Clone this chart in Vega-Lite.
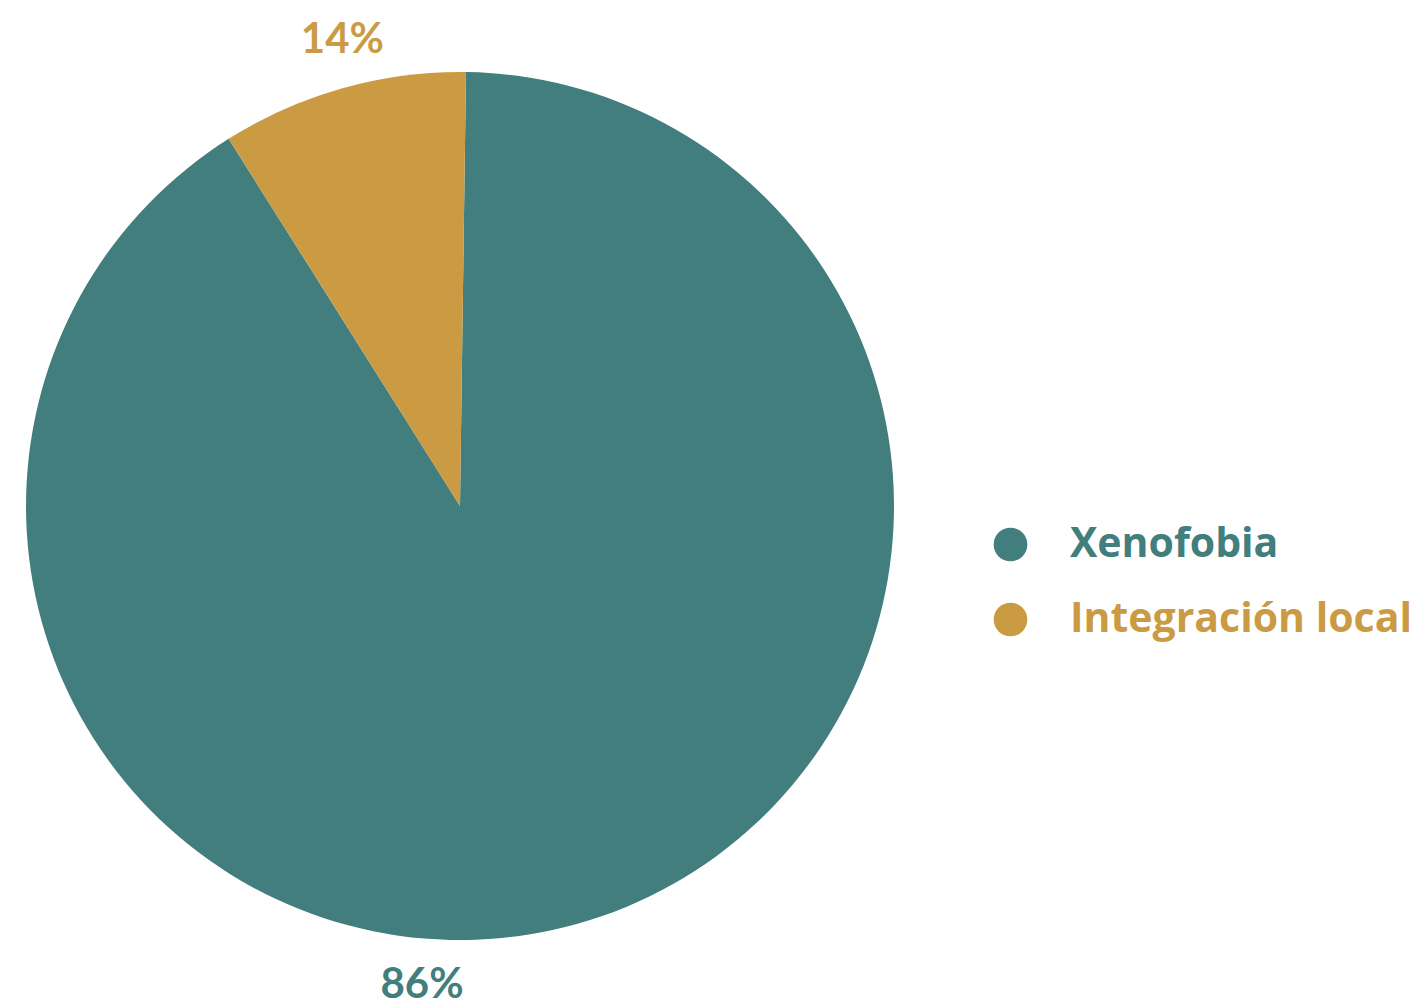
{
  "$schema": "https://vega.github.io/schema/vega-lite/v6.json",
  "width": 920,
  "height": 996,
  "autosize": {"type": "none"},
  "padding": {"left": 0, "top": 8, "right": 499, "bottom": 0},
  "background": "white",
  "config": {"view": {"stroke": null}},
  "data": {
    "values": [
      {"categoria": "Xenofobia", "valor": 90.83, "porcentaje": 86, "etiqueta": "86%"},
      {"categoria": "Integración local", "valor": 9.17, "porcentaje": 14, "etiqueta": "14%"}
    ]
  },
  "layer": [
    {
      "mark": {"type": "arc", "outerRadius": 434},
      "encoding": {
        "theta": {"field": "valor", "type": "quantitative", "stack": true, "scale": {"domain": [0, 100], "range": [0.0138, 6.297]}},
        "color": {
          "field": "categoria",
          "type": "nominal",
          "scale": {"domain": ["Xenofobia", "Integración local"], "range": ["#417E7D", "#CB9B44"]},
          "legend": {
            "orient": "none",
            "legendX": 990,
            "legendY": 516,
            "title": null,
            "symbolType": "circle",
            "symbolSize": 1134,
            "symbolStrokeWidth": 0,
            "symbolOpacity": 1,
            "labelFont": "Open Sans",
            "labelFontWeight": "bold",
            "labelFontSize": 41,
            "labelOffset": 39,
            "rowPadding": 33,
            "padding": 0,
            "labelLimit": 600,
            "encode": {"labels": {"update": {"fill": {"signal": "datum.label === 'Xenofobia' ? '#417E7D' : '#CB9B44'"}}}}
          }
        },
        "order": {"field": "categoria", "sort": "descending"}
      }
    },
    {
      "mark": {"type": "text", "radius": 481, "font": "Lato", "fontWeight": "bold", "fontSize": 42, "baseline": "middle", "align": "center"},
      "encoding": {
        "theta": {"field": "porcentaje", "type": "quantitative", "stack": true, "scale": {"domain": [0, 100], "range": [0.7995, 6.4303]}},
        "text": {"field": "etiqueta"},
        "color": {"field": "categoria", "type": "nominal", "legend": null},
        "order": {"field": "categoria", "sort": "descending"}
      }
    }
  ],
  "resolve": {"scale": {"theta": "independent"}}
}
